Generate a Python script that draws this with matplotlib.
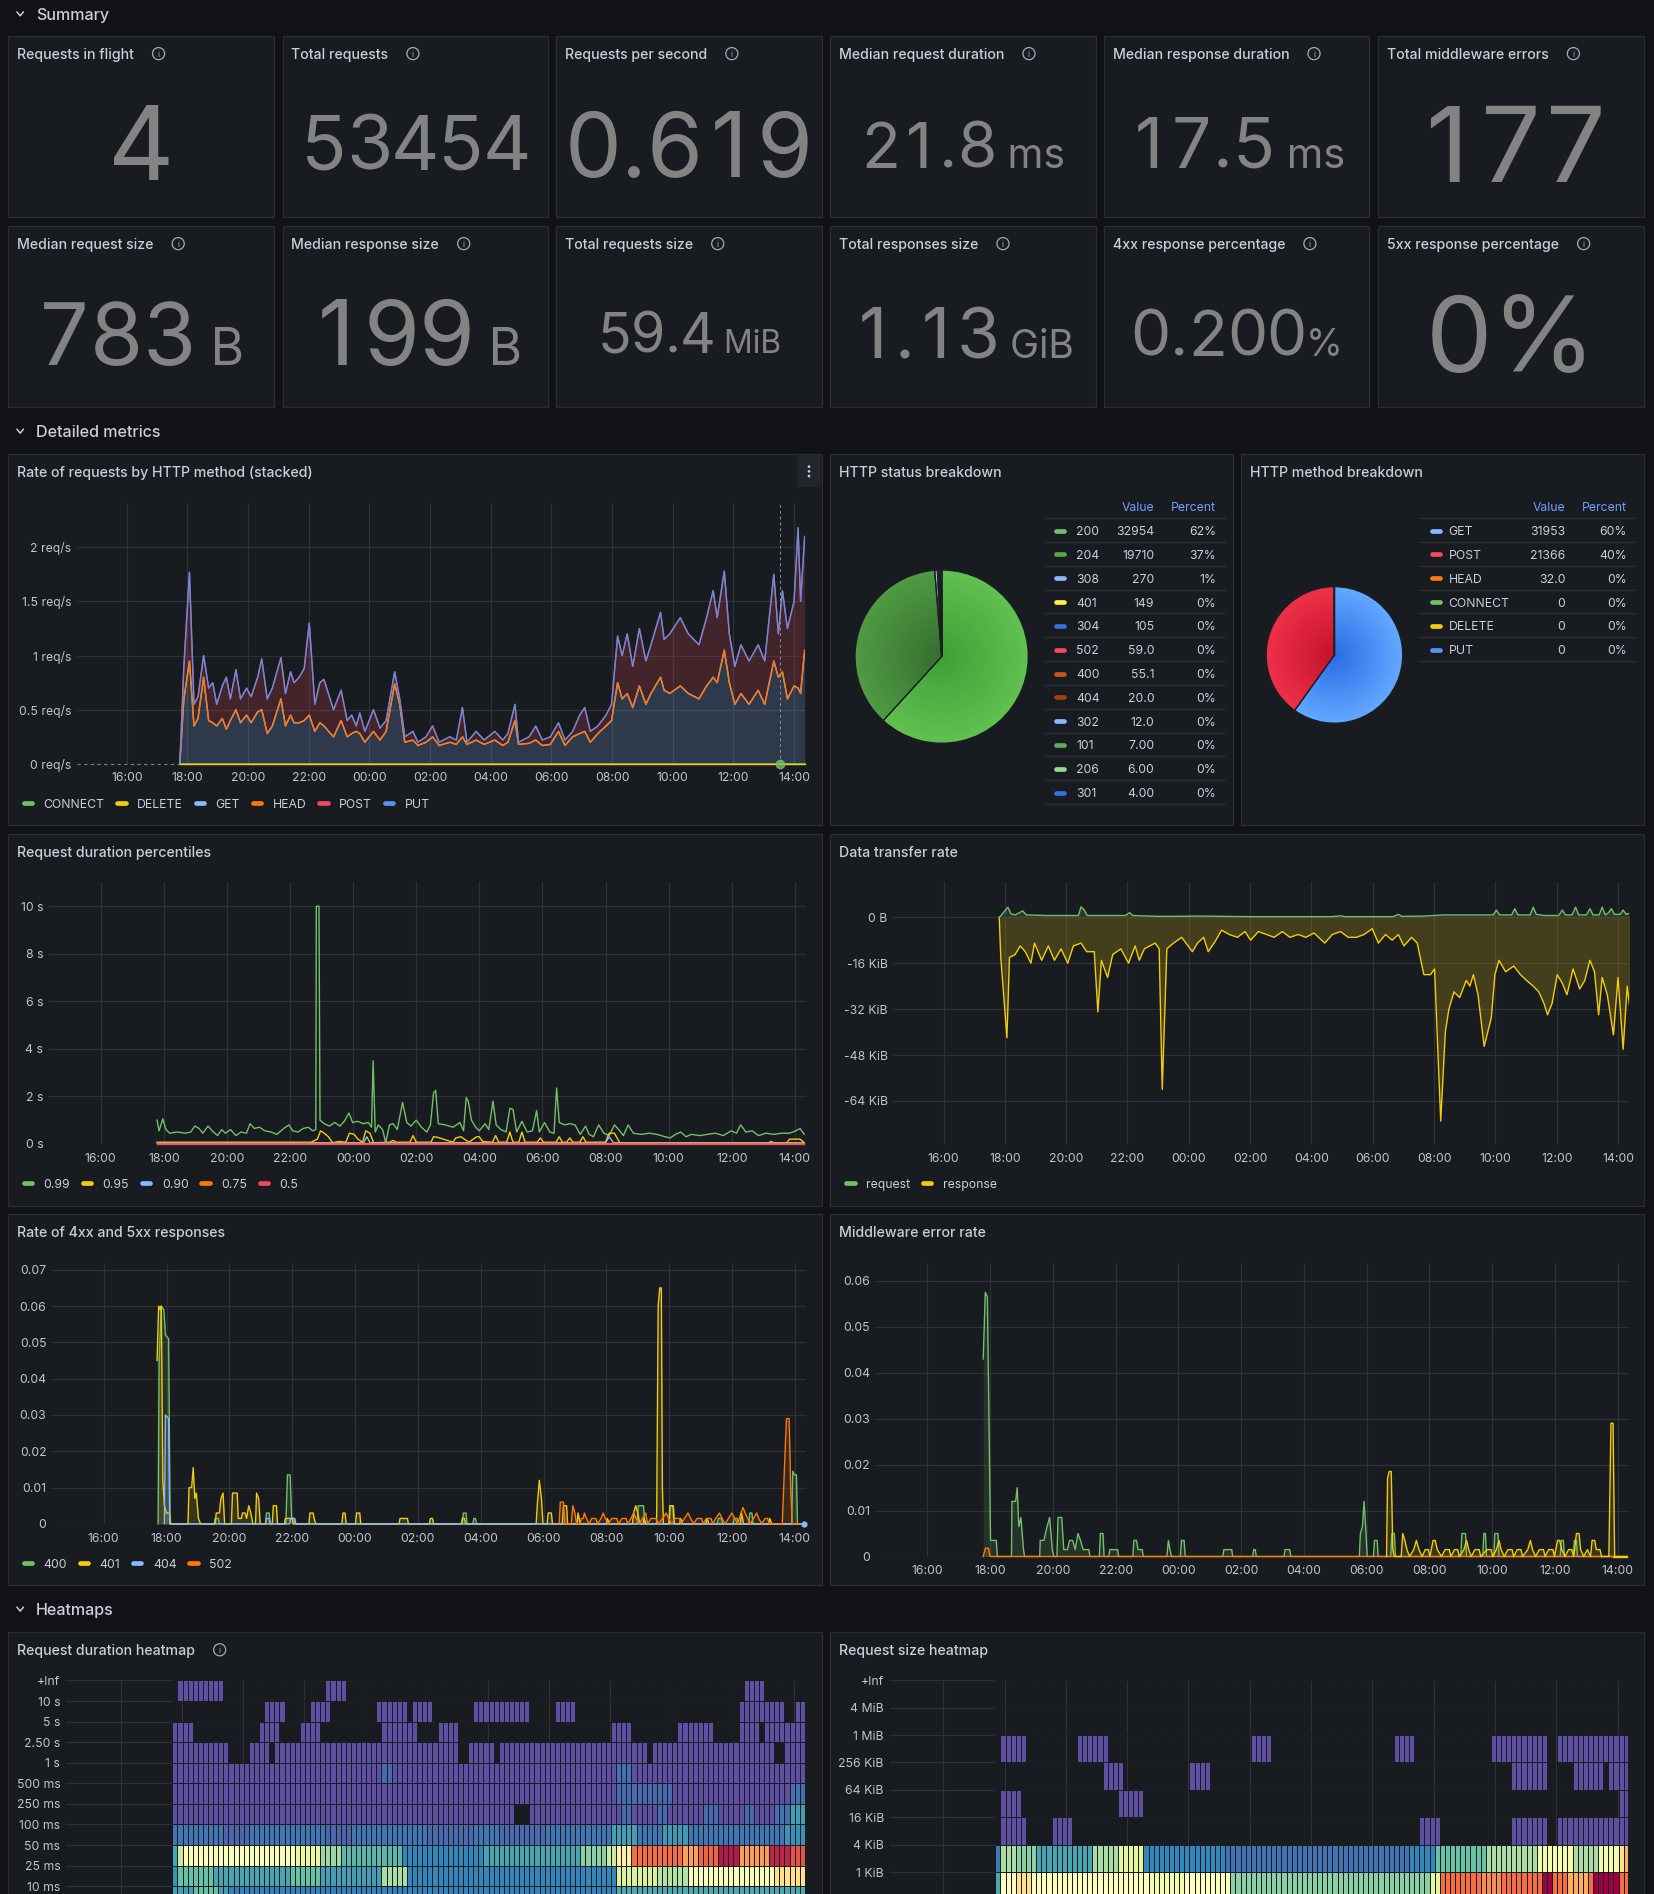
#!/usr/bin/env python3
# Grafana HTTP dashboard, redrawn with matplotlib
import numpy as np
import matplotlib
matplotlib.use("Agg")
import matplotlib.pyplot as plt
from matplotlib.patches import Rectangle, Circle
from matplotlib.colors import to_rgb

plt.rcParams["font.family"] = ["Inter", "DejaVu Sans"]

# ----------------------------------------------------------
# DATA  (time = minutes after 16:00)
# ----------------------------------------------------------
TIME_TICKS = ["16:00", "18:00", "20:00", "22:00", "00:00", "02:00",
              "04:00", "06:00", "08:00", "10:00", "12:00", "14:00"]
TICK_MIN = [0, 120, 240, 360, 480, 600, 720, 840, 960, 1080, 1200, 1320]

stat_titles = [
    ["Requests in flight", "Total requests", "Requests per second",
     "Median request duration", "Median response duration", "Total middleware errors"],
    ["Median request size", "Median response size", "Total requests size",
     "Total responses size", "4xx response percentage", "5xx response percentage"],
]
stat_values = [["4", "53454", "0.619", "21.8", "17.5", "177"],
               ["783", "199", "59.4", "1.13", "0.200", "0%"]]
stat_units = [["", "", "", " ms", " ms", ""],
              [" B", " B", " MiB", " GiB", "%", ""]]

# (minute, GET, total) -- stacked rate of requests
rate_rows = [
    (105, 0.00, 0.00), (113, 0.60, 0.90), (124, 0.95, 1.77), (133, 0.35, 0.55),
    (141, 0.42, 0.62), (152, 0.80, 1.00), (162, 0.40, 0.70), (170, 0.38, 0.75),
    (178, 0.35, 0.55), (189, 0.42, 0.72), (197, 0.32, 0.80), (205, 0.40, 0.60),
    (216, 0.50, 0.87), (225, 0.38, 0.60), (237, 0.45, 0.70), (246, 0.38, 0.62),
    (259, 0.48, 0.80), (267, 0.50, 0.97), (278, 0.28, 0.60), (288, 0.35, 0.70),
    (305, 0.60, 0.98), (314, 0.35, 0.65), (324, 0.45, 0.85), (331, 0.38, 0.75),
    (341, 0.38, 0.80), (351, 0.40, 0.88), (361, 0.45, 1.30), (372, 0.30, 0.55),
    (382, 0.38, 0.75), (390, 0.35, 0.78), (409, 0.25, 0.50), (424, 0.40, 0.68),
    (436, 0.25, 0.40), (445, 0.28, 0.45), (454, 0.30, 0.35), (461, 0.28, 0.47),
    (471, 0.20, 0.30), (488, 0.30, 0.50), (501, 0.22, 0.33), (513, 0.30, 0.40),
    (530, 0.74, 0.85), (540, 0.55, 0.60), (550, 0.20, 0.25), (566, 0.22, 0.30),
    (576, 0.17, 0.20), (592, 0.20, 0.25), (605, 0.25, 0.35), (618, 0.17, 0.20),
    (639, 0.20, 0.25), (652, 0.18, 0.22), (664, 0.25, 0.52), (673, 0.18, 0.20),
    (691, 0.22, 0.30), (707, 0.18, 0.22), (728, 0.22, 0.30), (744, 0.17, 0.22),
    (754, 0.20, 0.28), (768, 0.40, 0.55), (775, 0.18, 0.20), (796, 0.19, 0.25),
    (809, 0.22, 0.35), (822, 0.17, 0.22), (838, 0.18, 0.25), (854, 0.30, 0.38),
    (867, 0.17, 0.22), (882, 0.25, 0.30), (896, 0.28, 0.45), (906, 0.30, 0.52),
    (917, 0.20, 0.30), (932, 0.28, 0.35), (948, 0.35, 0.45), (959, 0.40, 0.55),
    (971, 0.75, 1.18), (980, 0.60, 1.00), (990, 0.65, 1.20), (1001, 0.52, 0.90),
    (1014, 0.72, 1.25), (1027, 0.55, 0.95), (1037, 0.65, 1.10), (1056, 0.80, 1.40),
    (1063, 0.68, 1.15), (1074, 0.65, 1.20), (1095, 0.72, 1.35), (1111, 0.65, 1.20),
    (1132, 0.60, 1.10), (1147, 0.72, 1.35), (1160, 0.80, 1.60), (1168, 0.75, 1.35),
    (1182, 1.05, 1.78), (1192, 0.75, 1.20), (1203, 0.55, 0.90), (1215, 0.65, 1.10),
    (1231, 0.55, 0.95), (1249, 0.68, 1.10), (1262, 0.55, 0.95), (1280, 0.95, 1.75),
    (1289, 0.80, 1.20), (1297, 0.85, 1.60), (1307, 0.60, 1.25), (1320, 0.72, 1.50),
    (1328, 0.70, 2.18), (1333, 0.65, 1.50), (1341, 1.05, 2.10),
]
rate_t, rate_get, rate_total = (np.array(c) for c in zip(*rate_rows))
rate_methods = ["CONNECT", "DELETE", "GET", "HEAD", "POST", "PUT"]

status_codes = ["200", "204", "308", "401", "304", "502", "400", "404", "302", "101", "206", "301"]
status_counts = [32954, 19710, 270, 149, 105, 59.0, 55.1, 20.0, 12.0, 7.00, 6.00, 4.00]
method_names = ["GET", "POST", "HEAD", "CONNECT", "DELETE", "PUT"]
method_counts = [31953, 21366, 32.0, 0, 0, 0]

# request duration percentiles, seconds
p99_pts = [
    (107, 1.0), (111, 0.55), (118, 1.05), (124, 0.6), (131, 0.45), (146, 0.5), (161, 0.45),
    (171, 0.5), (179, 0.75), (187, 0.65), (194, 0.45), (204, 0.75), (212, 0.55), (222, 0.35),
    (230, 0.6), (237, 0.45), (247, 0.6), (257, 0.35), (267, 0.5), (277, 0.45), (284, 0.85),
    (292, 0.65), (302, 0.7), (312, 0.55), (324, 0.5), (335, 0.4), (348, 0.65), (358, 0.8),
    (365, 0.55), (375, 0.5), (385, 0.65), (395, 0.7), (403, 0.55), (409, 0.6), (410, 10.0),
    (415, 10.0), (417, 1.0), (425, 0.85), (435, 0.75), (445, 0.9), (455, 0.75), (463, 0.95),
    (472, 1.3), (479, 0.9), (489, 0.95), (499, 0.85), (509, 0.9), (515, 0.7), (518, 3.5),
    (522, 0.5), (528, 0.8), (536, 0.6), (542, 0.05), (549, 0.8), (556, 0.85), (564, 0.6),
    (574, 1.75), (582, 0.9), (590, 0.75), (600, 1.0), (610, 0.7), (620, 0.5), (627, 0.8),
    (633, 2.15), (637, 2.25), (642, 0.85), (655, 0.8), (670, 0.7), (683, 0.9), (690, 0.55),
    (695, 1.95), (699, 1.8), (705, 1.0), (713, 0.7), (720, 0.55), (731, 0.85), (738, 0.6),
    (746, 1.8), (752, 0.8), (761, 0.6), (771, 0.5), (778, 1.5), (784, 1.45), (791, 0.5),
    (801, 0.95), (811, 0.5), (821, 0.55), (829, 1.4), (834, 0.5), (844, 0.9), (854, 0.5),
    (862, 0.45), (867, 2.35), (872, 0.9), (882, 0.8), (892, 0.85), (902, 0.8), (912, 0.4),
    (922, 0.75), (929, 0.4), (937, 0.3), (947, 0.8), (957, 0.45), (967, 0.35), (977, 0.8),
    (987, 0.55), (994, 0.35), (1003, 0.8), (1013, 0.45), (1028, 0.4), (1043, 0.45),
    (1058, 0.4), (1073, 0.3), (1083, 0.25), (1093, 0.4), (1103, 0.5), (1113, 0.3),
    (1123, 0.4), (1139, 0.35), (1154, 0.4), (1169, 0.45), (1184, 0.35), (1199, 0.55),
    (1209, 0.45), (1217, 0.8), (1227, 0.5), (1239, 0.55), (1251, 0.35), (1265, 0.45),
    (1280, 0.4), (1295, 0.45), (1310, 0.45), (1322, 0.55), (1330, 0.65), (1338, 0.4),
]
p95_pts = [
    (107, 0.07), (400, 0.07), (412, 0.2), (418, 0.55), (425, 0.45), (433, 0.3), (441, 0.05),
    (453, 0.1), (466, 0.07), (473, 0.45), (482, 0.4), (489, 0.2), (498, 0.07), (504, 0.55),
    (512, 0.45), (519, 0.05), (550, 0.07), (556, 0.15), (562, 0.07), (588, 0.07), (594, 0.35),
    (600, 0.07), (628, 0.07), (633, 0.3), (640, 0.28), (670, 0.07), (675, 0.25), (685, 0.3),
    (700, 0.07), (715, 0.3), (720, 0.3), (726, 0.1), (745, 0.07), (751, 0.35), (757, 0.07),
    (772, 0.07), (778, 0.5), (784, 0.07), (795, 0.07), (801, 0.5), (807, 0.07), (830, 0.07),
    (836, 0.25), (842, 0.07), (866, 0.07), (872, 0.3), (878, 0.07), (886, 0.07), (892, 0.25),
    (898, 0.07), (911, 0.07), (917, 0.3), (923, 0.07), (960, 0.07), (967, 0.45), (977, 0.45),
    (987, 0.05), (1270, 0.05), (1275, 0.1), (1280, 0.05), (1305, 0.05), (1310, 0.2),
    (1330, 0.2), (1338, 0.05),
]
p90_pts = [(107, 0.05), (500, 0.05), (506, 0.3), (512, 0.05), (960, 0.05), (967, 0.3),
           (975, 0.05), (1338, 0.05)]
p75_pts = [(107, 0.03), (1338, 0.03)]
p50_pts = [(107, 0.01), (1338, 0.01)]
pct_labels = ["0.99", "0.95", "0.90", "0.75", "0.5"]

# data transfer rate, KiB/s (response drawn negative)
resp_pts = [
    (109, 0), (112, -14), (124, -42), (129, -14), (140, -13), (150, -10), (160, -12),
    (171, -16), (178, -9), (192, -15), (205, -10), (217, -15), (230, -11), (243, -16),
    (254, -10), (269, -9), (280, -12), (295, -12), (302, -33), (309, -15), (321, -21),
    (331, -13), (347, -11), (362, -16), (375, -10), (383, -15), (393, -11), (414, -9),
    (422, -11), (428, -60), (437, -11), (450, -9), (466, -7), (487, -12), (497, -9),
    (509, -7), (518, -12), (533, -8), (544, -4.5), (559, -6), (575, -7), (590, -5),
    (601, -8), (616, -5), (632, -6), (647, -7), (663, -5), (678, -7), (694, -6), (709, -7),
    (725, -5.5), (746, -9), (761, -6), (777, -5), (792, -7), (808, -7), (823, -6),
    (839, -4), (851, -9), (865, -6), (878, -8), (890, -6), (901, -10), (916, -7), (927, -9),
    (940, -20), (953, -20), (961, -18), (965, -36), (973, -71), (982, -40), (989, -32),
    (999, -26), (1010, -28), (1023, -22), (1030, -24), (1037, -20), (1046, -27),
    (1058, -45), (1072, -35), (1079, -20), (1087, -15), (1100, -19), (1116, -17),
    (1129, -20), (1141, -22), (1154, -24), (1165, -26), (1175, -30), (1182, -34),
    (1191, -30), (1201, -20), (1211, -23), (1220, -27), (1232, -18), (1245, -25),
    (1255, -22), (1265, -15), (1274, -19), (1282, -34), (1289, -21), (1299, -27),
    (1311, -41), (1320, -21), (1330, -46), (1338, -24), (1344, -33),
]
req_pts = [
    (109, 0), (112, 0.5), (126, 3.5), (132, 1.2), (140, 0.8), (155, 2.2), (162, 0.8),
    (200, 0.6), (264, 0.6), (269, 3.6), (275, 2.6), (281, 0.6), (356, 0.6), (364, 1.6),
    (370, 0.6), (420, 0.3), (450, 0.3), (500, 0.4), (600, 0.2), (760, 0.2), (777, 0.5),
    (785, 0.2), (880, 0.2), (890, 1.0), (897, 0.3), (940, 0.4), (980, 0.8), (1076, 0.8),
    (1082, 2.5), (1088, 0.8), (1112, 0.8), (1118, 3.0), (1124, 0.8), (1148, 0.8),
    (1154, 3.5), (1160, 1.0), (1175, 0.6), (1204, 0.6), (1211, 2.5), (1217, 0.8),
    (1230, 0.8), (1237, 3.5), (1243, 0.8), (1258, 0.8), (1265, 3.0), (1271, 0.8),
    (1283, 0.8), (1289, 3.5), (1295, 0.8), (1301, 1.5), (1307, 3.0), (1313, 1.0),
    (1324, 1.0), (1330, 2.5), (1336, 1.0), (1344, 1.5),
]

# rate of 4xx / 5xx responses
err400_pts = [
    (104, 0.0), (106, 0.045), (110, 0.06), (115, 0.059), (118, 0.052), (124, 0.051),
    (127, 0.0), (211, 0.0), (213, 0.0015), (219, 0.0015), (221, 0.0), (309, 0.0),
    (311, 0.003), (316, 0.003), (318, 0.0), (348, 0.0), (351, 0.0135), (356, 0.0135),
    (359, 0.0015), (363, 0.0015), (365, 0.0), (685, 0.0), (687, 0.003), (692, 0.003),
    (694, 0.0), (705, 0.0), (707, 0.0015), (710, 0.0015), (712, 0.0), (1019, 0.0),
    (1021, 0.005), (1031, 0.005), (1033, 0.0), (1079, 0.0), (1081, 0.005), (1087, 0.005),
    (1089, 0.0), (1172, 0.0), (1174, 0.0015), (1180, 0.0015), (1182, 0.0), (1202, 0.0),
    (1204, 0.0015), (1210, 0.0015), (1212, 0.0), (1232, 0.0), (1234, 0.003), (1238, 0.003),
    (1240, 0.0), (1314, 0.0), (1316, 0.0145), (1319, 0.0135), (1323, 0.0135), (1325, 0.0),
    (1338, 0.0),
]
err401_pts = [
    (102, 0.045), (105, 0.06), (108, 0.059), (110, 0.06), (113, 0.012), (116, 0.005),
    (120, 0.003), (126, 0.003), (128, 0.0), (161, 0.0), (163, 0.01), (168, 0.01),
    (171, 0.0155), (174, 0.007), (177, 0.0085), (181, 0.0015), (185, 0.0), (213, 0.0),
    (215, 0.003), (221, 0.003), (224, 0.007), (228, 0.0085), (231, 0.0), (244, 0.0),
    (246, 0.0085), (255, 0.0085), (257, 0.0015), (263, 0.0015), (265, 0.003), (270, 0.003),
    (273, 0.0015), (277, 0.005), (281, 0.003), (285, 0.0), (290, 0.0), (292, 0.0085),
    (296, 0.007), (299, 0.0), (322, 0.0), (324, 0.005), (330, 0.005), (332, 0.0),
    (345, 0.0), (347, 0.0015), (360, 0.0015), (362, 0.0), (392, 0.0), (394, 0.003),
    (400, 0.003), (402, 0.0015), (405, 0.0), (455, 0.0), (457, 0.003), (461, 0.003),
    (463, 0.0), (481, 0.0), (483, 0.003), (489, 0.003), (491, 0.0), (564, 0.0),
    (566, 0.0015), (580, 0.0015), (582, 0.0), (622, 0.0), (624, 0.0015), (628, 0.0015),
    (630, 0.0), (683, 0.0), (685, 0.0015), (689, 0.0015), (691, 0.0), (826, 0.0),
    (828, 0.005), (832, 0.012), (836, 0.007), (839, 0.0), (847, 0.0), (849, 0.003),
    (855, 0.003), (857, 0.0), (876, 0.0), (878, 0.005), (884, 0.005), (886, 0.0),
    (904, 0.0), (906, 0.003), (910, 0.0), (960, 0.0), (962, 0.0015), (966, 0.0),
    (1010, 0.0), (1012, 0.003), (1016, 0.005), (1020, 0.003), (1024, 0.0), (1030, 0.0),
    (1032, 0.0015), (1036, 0.0), (1056, 0.0), (1059, 0.06), (1062, 0.065), (1065, 0.065),
    (1067, 0.01), (1069, 0.0), (1080, 0.0), (1082, 0.005), (1088, 0.005), (1090, 0.0),
    (1100, 0.0), (1102, 0.0015), (1106, 0.0), (1150, 0.0), (1152, 0.0015), (1156, 0.0),
    (1216, 0.0), (1218, 0.003), (1222, 0.0), (1270, 0.0), (1272, 0.0015), (1276, 0.0),
    (1338, 0.0),
]
err404_pts = [(116, 0.0), (118, 0.03), (124, 0.029), (126, 0.0), (309, 0.0), (311, 0.0015),
              (316, 0.0015), (318, 0.0), (355, 0.0), (357, 0.0015), (365, 0.0015),
              (367, 0.0), (1338, 0.0)]
err502_pts = [
    (870, 0.0), (872, 0.006), (878, 0.006), (881, 0.0), (893, 0.0), (896, 0.005),
    (900, 0.003), (903, 0.0), (910, 0.0), (912, 0.0015), (916, 0.0015), (918, 0.003),
    (922, 0.0015), (927, 0.0), (932, 0.0015), (940, 0.0015), (943, 0.0), (950, 0.0015),
    (954, 0.003), (958, 0.0015), (964, 0.0), (970, 0.0015), (980, 0.0015), (983, 0.0),
    (990, 0.0015), (998, 0.0015), (1001, 0.0), (1007, 0.0015), (1012, 0.003),
    (1017, 0.0015), (1023, 0.0), (1029, 0.0015), (1035, 0.003), (1039, 0.0),
    (1045, 0.0015), (1055, 0.0015), (1058, 0.0), (1068, 0.0015), (1074, 0.003),
    (1079, 0.0015), (1085, 0.0), (1091, 0.0015), (1100, 0.0015), (1103, 0.0),
    (1109, 0.0015), (1116, 0.003), (1121, 0.0015), (1127, 0.0), (1133, 0.0015),
    (1142, 0.0015), (1145, 0.0), (1151, 0.0015), (1160, 0.0015), (1163, 0.0),
    (1169, 0.0015), (1176, 0.003), (1181, 0.0015), (1187, 0.0), (1193, 0.0015),
    (1200, 0.003), (1205, 0.0015), (1211, 0.0), (1217, 0.003), (1221, 0.0045),
    (1225, 0.003), (1230, 0.0015), (1235, 0.0), (1241, 0.0015), (1247, 0.003),
    (1251, 0.0015), (1257, 0.0), (1263, 0.0015), (1268, 0.0015), (1271, 0.0), (1296, 0.0),
    (1300, 0.015), (1304, 0.029), (1309, 0.029), (1312, 0.01), (1315, 0.0), (1338, 0.0),
]
err_labels = ["400", "401", "404", "502"]

# middleware error rate
mw_green_pts = [
    (107, 0.043), (111, 0.0575), (115, 0.0565), (121, 0.0035), (132, 0.0035), (134, 0.0),
    (161, 0.0), (162, 0.012), (169, 0.012), (172, 0.015), (175, 0.0065), (179, 0.0085),
    (184, 0.0015), (186, 0.0), (215, 0.0), (216, 0.0035), (223, 0.0035), (229, 0.0065),
    (234, 0.0085), (239, 0.0015), (242, 0.0), (248, 0.0), (250, 0.0085), (257, 0.0085),
    (261, 0.0015), (268, 0.0015), (272, 0.0035), (278, 0.0035), (283, 0.0015),
    (288, 0.005), (293, 0.0035), (298, 0.0015), (309, 0.0015), (311, 0.0), (329, 0.0),
    (331, 0.005), (336, 0.005), (338, 0.0), (347, 0.0), (349, 0.0015), (364, 0.0015),
    (366, 0.0), (393, 0.0), (395, 0.0035), (400, 0.0035), (403, 0.0015), (411, 0.0015),
    (413, 0.0), (458, 0.0), (461, 0.0035), (464, 0.0015), (467, 0.0), (484, 0.0),
    (486, 0.0035), (491, 0.0035), (493, 0.0), (565, 0.0), (567, 0.0015), (582, 0.0015),
    (584, 0.0), (622, 0.0), (624, 0.0015), (627, 0.0015), (629, 0.0), (682, 0.0),
    (684, 0.0015), (693, 0.0015), (695, 0.0), (826, 0.0), (828, 0.005), (832, 0.0065),
    (835, 0.012), (838, 0.0065), (841, 0.0), (853, 0.0), (855, 0.0035), (860, 0.0035),
    (862, 0.0), (886, 0.0), (888, 0.005), (893, 0.005), (895, 0.0), (1020, 0.0),
    (1022, 0.005), (1029, 0.005), (1031, 0.0), (1062, 0.0), (1064, 0.005), (1067, 0.005),
    (1069, 0.0), (1083, 0.0), (1085, 0.005), (1091, 0.005), (1093, 0.0), (1210, 0.0),
    (1212, 0.0035), (1216, 0.0035), (1218, 0.0), (1235, 0.0), (1237, 0.0035),
    (1241, 0.0035), (1243, 0.0), (1338, 0.0),
]
mw_yellow_pts = [
    (878, 0.0), (880, 0.017), (883, 0.0185), (887, 0.0185), (890, 0.0015), (893, 0.0),
    (906, 0.0), (909, 0.005), (913, 0.0035), (917, 0.0015), (922, 0.0), (930, 0.0015),
    (935, 0.0035), (940, 0.0015), (946, 0.0), (952, 0.0015), (958, 0.0015), (961, 0.0),
    (967, 0.0035), (971, 0.0035), (975, 0.0015), (983, 0.0), (990, 0.0015), (998, 0.0015),
    (1001, 0.0), (1008, 0.0015), (1014, 0.0015), (1017, 0.0), (1026, 0.0015),
    (1031, 0.0035), (1035, 0.0015), (1040, 0.0), (1047, 0.0015), (1055, 0.0015),
    (1058, 0.0), (1070, 0.0015), (1078, 0.0015), (1081, 0.0), (1088, 0.0015),
    (1093, 0.0035), (1097, 0.0015), (1103, 0.0), (1110, 0.0015), (1118, 0.0015),
    (1121, 0.0), (1128, 0.0015), (1135, 0.0015), (1138, 0.0), (1148, 0.0015),
    (1153, 0.0035), (1157, 0.0015), (1163, 0.0), (1170, 0.0015), (1178, 0.0015),
    (1181, 0.0), (1188, 0.0015), (1196, 0.0015), (1199, 0.0), (1205, 0.0035),
    (1209, 0.0035), (1213, 0.0015), (1219, 0.0), (1226, 0.0015), (1232, 0.0015),
    (1236, 0.0), (1241, 0.005), (1246, 0.005), (1249, 0.0015), (1255, 0.0),
    (1262, 0.0015), (1268, 0.0), (1271, 0.0035), (1276, 0.0035), (1279, 0.0015),
    (1286, 0.0015), (1289, 0.0), (1303, 0.0), (1307, 0.029), (1311, 0.029), (1314, 0.0),
    (1338, 0.0),
]
mw_orange_pts = [(107, 0.0), (111, 0.0018), (117, 0.0018), (120, 0.0), (1311, 0.0)]

# heatmaps: 10-minute columns, rows top-down, spans (first col, last col, level 0..10)
hm_cols = 124
hm_dur_start = 101
hm_dur_labels = ["+Inf", "10 s", "5 s", "2.50 s", "1 s", "500 ms", "250 ms",
                 "100 ms", "50 ms", "25 ms", "10 ms"]
hm_dur_rows = [
    [(1, 9, 0), (30, 33, 0), (112, 115, 0)],
    [(18, 21, 0), (27, 30, 0), (40, 45, 0), (47, 50, 0), (59, 69, 0), (75, 78, 0),
     (111, 119, 0), (122, 123, 0)],
    [(0, 3, 0), (17, 20, 0), (25, 28, 0), (41, 47, 0), (52, 55, 0), (86, 89, 0),
     (99, 105, 0), (111, 114, 0), (116, 123, 0)],
    [(0, 10, 0), (15, 18, 0), (20, 55, 0), (58, 62, 0), (64, 92, 0), (94, 117, 0),
     (120, 123, 0)],
    [(0, 123, 0), (41, 42, 0.5), (87, 89, 0.6)],
    [(0, 123, 0), (87, 97, 0.5), (121, 123, 0.6)],
    [(0, 66, 0), (70, 123, 0), (88, 89, 0.5), (95, 96, 0.5), (104, 106, 0.5),
     (112, 113, 0.5), (118, 120, 0.6), (121, 123, 1.4)],
    [(0, 123, 0.7), (10, 14, 0.4), (30, 34, 0.4), (50, 58, 0.5), (64, 72, 0.5),
     (86, 90, 1.4), (96, 100, 1.3), (120, 123, 1.2)],
    [(0, 0, 1.5), (1, 1, 3.5), (2, 23, 4.8), (24, 28, 4.2), (29, 32, 2.8), (33, 44, 1.8),
     (45, 60, 1.0), (61, 79, 1.5), (80, 84, 2.5), (85, 86, 3.5), (87, 89, 5.5),
     (90, 99, 8.0), (100, 102, 7.2), (103, 106, 8.2), (107, 110, 9.6), (111, 116, 7.3),
     (117, 120, 9.4), (121, 123, 8.5)],
    [(0, 0, 1.2), (1, 7, 2.0), (8, 22, 1.5), (23, 28, 2.0), (29, 40, 1.4), (41, 45, 3.0),
     (46, 86, 1.0), (87, 94, 3.8), (95, 100, 3.2), (101, 117, 4.8), (118, 123, 6.0)],
    [(0, 10, 1.4), (4, 8, 2.0), (11, 86, 0.9), (87, 123, 1.6)],
]
hm_size_start = 102
hm_size_labels = ["+Inf", "4 MiB", "1 MiB", "256 KiB", "64 KiB", "16 KiB", "4 KiB", "1 KiB"]
hm_size_rows = [
    [],
    [],
    [(1, 5, 0), (16, 21, 0), (50, 53, 0), (78, 81, 0), (97, 107, 0), (110, 123, 0)],
    [(21, 24, 0), (38, 41, 0), (101, 107, 0), (113, 118, 0), (120, 123, 0)],
    [(1, 4, 0), (24, 28, 0), (122, 123, 0)],
    [(1, 5, 0), (11, 14, 0), (83, 86, 0), (101, 107, 0), (110, 123, 0)],
    [(0, 0, 0.8), (1, 3, 3.0), (4, 7, 2.5), (8, 18, 1.5), (19, 23, 3.0), (24, 28, 4.0),
     (29, 44, 1.0), (45, 80, 0.6), (81, 85, 1.0), (86, 95, 2.0), (96, 105, 3.0),
     (106, 112, 4.5), (113, 117, 3.0), (118, 121, 4.5), (122, 122, 6.0), (123, 123, 7.0)],
    [(0, 0, 1.5), (1, 45, 5.0), (4, 6, 6.0), (30, 36, 4.5), (46, 84, 2.5), (85, 86, 4.0),
     (87, 123, 8.0), (95, 98, 7.5), (107, 108, 10.0), (112, 115, 7.0), (117, 121, 10.0)],
]

# ----------------------------------------------------------
# STYLE
# ----------------------------------------------------------
BG = "#111217"
PANEL = "#181b1f"
BORDER = "#2a2d32"
GRID = "#2e3136"
TEXT = "#ccccdc"
TICK = "#c2c3cc"
STAT = "#838383"
LINK = "#6e9fff"
GREEN, YELLOW, LBLUE = "#73bf69", "#f2cc0c", "#8ab8ff"
ORANGE, RED, BLUE = "#ff780a", "#f2495c", "#5794f2"

FIG_W, FIG_H = 1654, 1894
W, H = 1369.0, 1568.0          # layout units = pixels of the screen capture
XLIM = (-99, 1341)
TNUM_EM = 0.61                 # tabular digit advance of Inter, in em

fig = plt.figure(figsize=(FIG_W / 100, FIG_H / 100), dpi=100, facecolor=BG)
base = fig.add_axes([0, 0, 1, 1])
base.set_xlim(0, W)
base.set_ylim(H, 0)
base.axis("off")
renderer = fig.canvas.get_renderer()


def box(x0, y0, x1, y1):
    return [x0 / W, 1 - y1 / H, (x1 - x0) / W, (y1 - y0) / H]


def width_of(t):
    return t.get_window_extent(renderer=renderer).width * W / FIG_W


def advance(ch, fs):
    # advance width of one glyph: width("cc") - width("c")
    t2 = base.text(0, 0, ch * 2, fontsize=fs)
    t1 = base.text(0, 0, ch, fontsize=fs)
    a = width_of(t2) - width_of(t1)
    t2.remove()
    t1.remove()
    return a


def tabular_value(cx, yb, s, fs, unit="", fu=0):
    # stat value with tabular digits, value + unit centred on cx
    cell = TNUM_EM * fs / 72 * 100 * W / FIG_W
    advs = [cell if ch.isdigit() else advance(ch, fs) for ch in s]
    tu = None
    wu = 0.0
    if unit:
        tu = base.text(0, yb, unit, color=STAT, fontsize=fu, va="baseline")
        wu = width_of(tu)
    x = cx - (sum(advs) + wu) / 2
    for ch, a in zip(s, advs):
        base.text(x + a / 2, yb, ch, color=STAT, fontsize=fs, ha="center", va="baseline")
        x += a
    if tu is not None:
        tu.set_x(x)


def info_icon(cx, cy):
    base.add_patch(Circle((cx, cy), 5.0, fill=False, edgecolor=TEXT, lw=0.9, alpha=0.8))
    base.text(cx, cy + 0.4, "i", fontsize=6.2, color=TEXT, alpha=0.8,
              ha="center", va="center")


def panel(x0, y0, x1, y1, title, info=False):
    base.add_patch(Rectangle((x0, y0), x1 - x0, y1 - y0, facecolor=PANEL,
                             edgecolor=BORDER, lw=0.9))
    t = base.text(x0 + 7, y0 + 19, title, color=TEXT, fontsize=10.2,
                  fontweight="medium", va="baseline")
    if info:
        info_icon(x0 + 7 + width_of(t) + 20.5, y0 + 14.6)


def section(y, label):
    base.plot([14.0, 16.7, 19.4], [y - 1.7, y + 1.6, y - 1.7], color=TEXT, lw=1.1,
              solid_capstyle="round", solid_joinstyle="round")
    base.text(30, y + 5, label, color=TEXT, fontsize=11.6, fontweight="medium",
              va="baseline")


def legend(x, y, labels, colors):
    for label, col in zip(labels, colors):
        base.plot([x + 2, x + 9], [y, y], color=col, lw=3.4, solid_capstyle="round")
        t = base.text(x + 18.5, y + 3.7, label, color=TEXT, fontsize=8.8, va="baseline")
        x = x + 18.5 + width_of(t) + 8.5


def ts_axes(x0, y0, x1, y1, ylim, yticks, ylabels):
    ax = fig.add_axes(box(x0, y0, x1, y1))
    ax.set_facecolor("none")
    for s in ax.spines.values():
        s.set_visible(False)
    ax.set_xlim(*XLIM)
    ax.set_ylim(*ylim)
    ax.set_xticks(TICK_MIN)
    ax.set_xticklabels(TIME_TICKS)
    ax.set_yticks(yticks)
    ax.set_yticklabels(ylabels)
    ax.tick_params(length=0, colors=TICK, labelsize=8.8)
    ax.tick_params(axis="x", pad=6.2)
    ax.tick_params(axis="y", pad=3.9)
    ax.grid(True, color=GRID, lw=0.9)
    ax.set_axisbelow(True)
    return ax


def series(pts):
    t, v = zip(*pts)
    return np.array(t, float), np.array(v, float)


def mix(c1, c2, f):
    a, b = np.array(to_rgb(c1)), np.array(to_rgb(c2))
    return tuple(a + (b - a) * f)


def gradient_pie(cx, cy, r, values, outer, inner, steps=26):
    pad = 1.03
    ax = fig.add_axes(box(cx - r * pad, cy - r * pad, cx + r * pad, cy + r * pad))
    for k in range(steps):
        f = k / (steps - 1)
        ax.pie(values, radius=1.0 - 0.95 * f, startangle=90, counterclock=False,
               colors=[mix(o, i, f) for o, i in zip(outer, inner)],
               wedgeprops=dict(linewidth=0))
    ax.pie(values, radius=1.0, startangle=90, counterclock=False,
           colors=["none"] * len(values),
           wedgeprops=dict(linewidth=0.9, edgecolor="#1c1e22"))
    ax.set_xlim(-pad, pad)
    ax.set_ylim(-pad, pad)
    ax.axis("off")


def fmt_count(v):
    if v == 0:
        return "0"
    if v >= 100:
        return f"{v:.0f}"
    if v >= 10:
        return f"{v:.1f}"
    return f"{v:.2f}"


def pie_table(x_line0, x_line1, x_bar, x_label, x_val, x_pct, names, counts, colors):
    total = sum(counts)
    base.text(x_val, 419.4 + 3.7, "Value", color=LINK, fontsize=8.8, ha="right", va="baseline")
    base.text(x_pct, 419.4 + 3.7, "Percent", color=LINK, fontsize=8.8, ha="right", va="baseline")
    for k in range(len(names) + 1):
        yl = 429.0 + k * 19.72
        base.plot([x_line0, x_line1], [yl, yl], color=BORDER, lw=0.9)
    for k, (n, c, col) in enumerate(zip(names, counts, colors)):
        y = 439.3 + k * 19.72
        base.plot([x_bar + 2, x_bar + 9], [y, y], color=col, lw=3.4, solid_capstyle="round")
        base.text(x_label, y + 3.7, n, color=TEXT, fontsize=8.8, va="baseline")
        base.text(x_val, y + 3.7, fmt_count(c), color=TEXT, fontsize=8.8,
                  ha="right", va="baseline")
        base.text(x_pct, y + 3.7, f"{round(c / total * 100):.0f}%", color=TEXT,
                  fontsize=8.8, ha="right", va="baseline")


def heat_axes(x0, y0, x1, step, nbound, xlim, labels, rows, start, ylabel_pad=4.2):
    ax = fig.add_axes(box(x0, y0, x1, y0 + nbound * step))
    ax.set_facecolor("none")
    for s in ax.spines.values():
        s.set_visible(False)
    z = np.full((len(rows), hm_cols), np.nan)
    for r, spans in enumerate(rows):
        for a, b, lev in spans:
            z[r, a:b + 1] = lev
    xe = start + np.arange(hm_cols + 1) * 10
    ye = np.arange(len(rows) + 1)
    ax.pcolormesh(xe, ye, np.ma.masked_invalid(z), cmap="Spectral_r", vmin=0, vmax=10,
                  edgecolors=PANEL, linewidth=0.6)
    ax.set_xlim(*xlim)
    ax.set_ylim(nbound, 0)
    ax.set_xticks(TICK_MIN)
    ax.set_xticklabels([])      # time labels sit below the captured area
    ax.set_yticks(range(len(labels)))
    ax.set_yticklabels(labels)
    ax.tick_params(length=0, colors=TICK, labelsize=8.8)
    ax.tick_params(axis="y", pad=ylabel_pad)
    ax.grid(True, color=GRID, lw=0.9)
    ax.set_axisbelow(True)
    return ax


# ----------------------------------------------------------
# SUMMARY (stat panels)
# ----------------------------------------------------------
section(11.5, "Summary")
STAT_X = [7.0, 234.0, 460.5, 687.3, 913.9, 1140.9]
STAT_W = 219.5
STAT_ROWS = [(29.8, 179.9), (187.1, 337.2)]
VALUE_PT = [[74, 54, 65, 46, 50, 76], [62, 65, 40, 50, 46, 76]]
UNIT_PT = [[0, 0, 0, 29.5, 30, 0], [37, 37, 23, 28, 27, 0]]
VALUE_BASE = [[149.0, 140.7, 146.3, 139.0, 139.0, 150.4],
              [302.0, 302.0, 292.0, 296.4, 294.7, 307.7]]

for r, (y0, y1) in enumerate(STAT_ROWS):
    for c, x0 in enumerate(STAT_X):
        panel(x0, y0, x0 + STAT_W, y1, stat_titles[r][c], info=True)
        tabular_value(x0 + STAT_W / 2, VALUE_BASE[r][c], stat_values[r][c],
                      VALUE_PT[r][c], stat_units[r][c], UNIT_PT[r][c])

# ----------------------------------------------------------
# DETAILED METRICS
# ----------------------------------------------------------
section(357.0, "Detailed metrics")
panel(7.0, 375.8, 680.1, 683.2, "Rate of requests by HTTP method (stacked)")
panel(687.3, 375.8, 1020.8, 683.2, "HTTP status breakdown")
panel(1027.4, 375.8, 1360.4, 683.2, "HTTP method breakdown")
panel(7.0, 690.4, 680.1, 998.1, "Request duration percentiles")
panel(687.3, 690.4, 1360.4, 998.1, "Data transfer rate")
panel(7.0, 1005.0, 680.1, 1312.1, "Rate of 4xx and 5xx responses")
panel(687.3, 1005.0, 1360.4, 1312.1, "Middleware error rate")

# panel menu button
base.add_patch(Rectangle((660.0, 376.6), 19.3, 26.3, facecolor="#22252b", lw=0))
for yy in (386.3, 390.2, 394.1):
    base.add_patch(Circle((669.6, yy), 1.1, color=TEXT, lw=0))

# --- rate of requests (stacked)
ax = ts_axes(63.5, 416.7, 666.0, 632.4, (0, 2.406), [0, 0.5, 1, 1.5, 2],
             ["0 req/s", "0.5 req/s", "1 req/s", "1.5 req/s", "2 req/s"])
ax.fill_between(rate_t, 0, rate_get, color=LBLUE, alpha=0.2, lw=0)
ax.fill_between(rate_t, rate_get, rate_total, color=RED, alpha=0.2, lw=0)
ax.plot(rate_t, rate_get, color=LBLUE, lw=1.0)
ax.plot(rate_t, rate_get, color=ORANGE, lw=1.0)
ax.plot(rate_t, rate_total, color=RED, lw=1.0)
ax.plot(rate_t, rate_total, color=BLUE, lw=1.0, alpha=0.88)
ax.plot([XLIM[0], rate_t[0]], [0, 0], color="#7a7a84", lw=0.8, ls=(0, (3, 3)), clip_on=False)
ax.plot([rate_t[0], rate_t[-1]], [0, 0], color=GREEN, lw=1.2, clip_on=False)
ax.plot([rate_t[0], rate_t[-1]], [0, 0], color=YELLOW, lw=1.0, clip_on=False)
ax.axvline(1293, color="#8e8e99", lw=0.7, ls=(0, (3, 3)))
ax.plot([1293], [0], "o", color=GREEN, ms=6, alpha=0.8, clip_on=False)
legend(17.5, 665.0, rate_methods, [GREEN, YELLOW, LBLUE, ORANGE, RED, BLUE])

# --- HTTP status breakdown
status_colors = ["#73bf69", "#56a64b", "#8ab8ff", "#ffee52", "#3274d9", "#f2495c",
                 "#c4581b", "#a53d14", "#8ab8ff", "#64a85a", "#96d98d", "#3274d9"]
status_outer = ["#60c150", "#4f9a43"] + status_colors[2:]
status_inner = ["#40a036", "#366e2e"] + status_colors[2:]
gradient_pie(779.4, 543.6, 71.7, status_counts, status_outer, status_inner)
pie_table(864.8, 1013.8, 872.0, 890.7, 955.5, 1006.4,
          status_codes, status_counts, status_colors)

# --- HTTP method breakdown
method_colors = [LBLUE, RED, ORANGE, GREEN, YELLOW, BLUE]
method_outer = ["#62a8ff", "#ee2f48"] + method_colors[2:]
method_inner = ["#2a6ee6", "#c4142b"] + method_colors[2:]
gradient_pie(1104.5, 542.2, 56.5, method_counts, method_outer, method_inner)
pie_table(1174.6, 1353.5, 1183.0, 1199.0, 1295.5, 1346.4,
          method_names, method_counts, method_colors)

# --- request duration percentiles
ax = ts_axes(40.3, 730.6, 667.0, 947.0, (0, 11.0), [0, 2, 4, 6, 8, 10],
             ["0 s", "2 s", "4 s", "6 s", "8 s", "10 s"])
pct_colors = [GREEN, YELLOW, LBLUE, ORANGE, RED]
for pts, col in zip([p99_pts, p95_pts, p90_pts, p75_pts, p50_pts], pct_colors):
    t, v = series(pts)
    ax.plot(t, v, color=col, lw=1.0, clip_on=False)
legend(17.5, 979.6, pct_labels, pct_colors)

# --- data transfer rate
ax = ts_axes(739.1, 730.6, 1348.1, 947.8, (-79.3, 12.1), [0, -16, -32, -48, -64],
             ["0 B", "-16 KiB", "-32 KiB", "-48 KiB", "-64 KiB"])
t, v = series(resp_pts)
ax.fill_between(t, 0, v, color=YELLOW, alpha=0.2, lw=0)
ax.plot(t, v, color=YELLOW, lw=1.0)
t, v = series(req_pts)
ax.fill_between(t, 0, v, color=GREEN, alpha=0.2, lw=0)
ax.plot(t, v, color=GREEN, lw=1.0)
legend(698.3, 979.6, ["request", "response"], [GREEN, YELLOW])

# --- rate of 4xx and 5xx
ax = ts_axes(42.9, 1045.2, 667.0, 1261.6, (0, 0.072),
             [0, 0.01, 0.02, 0.03, 0.04, 0.05, 0.06, 0.07],
             ["0", "0.01", "0.02", "0.03", "0.04", "0.05", "0.06", "0.07"])
err_colors = [GREEN, YELLOW, LBLUE, ORANGE]
for pts, col in zip([err400_pts, err401_pts, err404_pts, err502_pts], err_colors):
    t, v = series(pts)
    ax.fill_between(t, 0, v, color=col, alpha=0.15, lw=0)
    ax.plot(t, v, color=col, lw=1.0, clip_on=False)
ax.plot([1338], [0], "o", color=LBLUE, ms=3.5, clip_on=False)
legend(17.5, 1294.1, err_labels, err_colors)

# --- middleware error rate
ax = ts_axes(724.6, 1045.2, 1348.1, 1288.6, (0, 0.064),
             [0, 0.01, 0.02, 0.03, 0.04, 0.05, 0.06],
             ["0", "0.01", "0.02", "0.03", "0.04", "0.05", "0.06"])
for pts, col in zip([mw_green_pts, mw_orange_pts, mw_yellow_pts], [GREEN, ORANGE, YELLOW]):
    t, v = series(pts)
    ax.fill_between(t, 0, v, color=col, alpha=0.15, lw=0)
    ax.plot(t, v, color=col, lw=1.0, clip_on=False)
ax.plot([1311, 1338], [0, 0], color=YELLOW, lw=1.0, clip_on=False)

# ----------------------------------------------------------
# HEATMAPS
# ----------------------------------------------------------
section(1332.2, "Heatmaps")
panel(7.0, 1351.2, 680.1, 1640.0, "Request duration heatmap", info=True)
panel(687.3, 1351.2, 1360.4, 1640.0, "Request size heatmap")
heat_axes(54.8, 1391.2, 667.0, 17.03, 12, (-107, 1343), hm_dur_labels,
          hm_dur_rows, hm_dur_start)
heat_axes(736.3, 1391.0, 1347.7, 22.69, 9, (-105, 1341), hm_size_labels,
          hm_size_rows, hm_size_start)

fig.savefig("out.png", dpi=100, facecolor=BG)
plt.close(fig)
print("saved out.png")
